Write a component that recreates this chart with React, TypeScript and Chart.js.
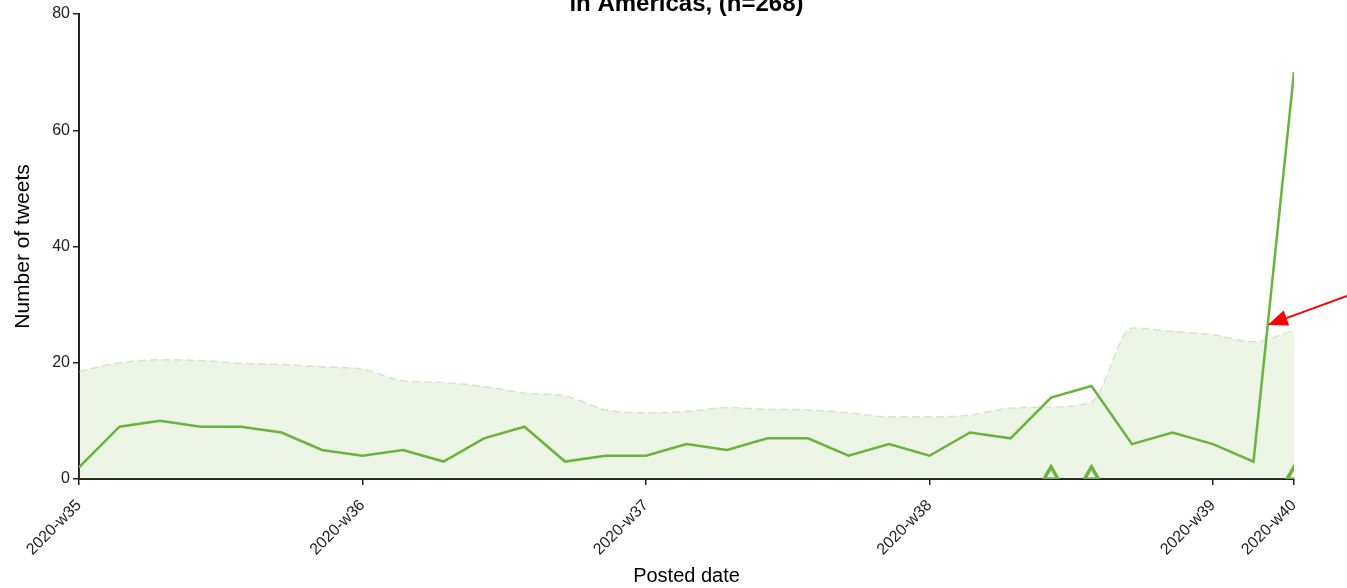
import React, { useEffect, useRef } from "react";
import { Chart, registerables } from "chart.js";

Chart.register(...registerables);

// Daily tweet counts (day index 0 = start of 2020-w35)
const days: number[] = Array.from({ length: 31 }, (_, i) => i);
const tweets: number[] = [2, 9, 10, 9, 9, 8, 5, 4, 5, 3, 7, 9, 3, 4, 4, 6, 5, 7, 7, 4, 6, 4, 8, 7, 14, 16, 6, 8, 6, 3, 70];
const upperBand: number[] = [18.5, 20, 20.5, 20.4, 19.9, 19.7, 19.3, 18.9, 16.9, 16.6, 15.9, 14.8, 14.3, 11.9, 11.4, 11.6, 12.3, 12.0, 11.9, 11.4, 10.7, 10.7, 11.0, 12.2, 12.4, 13.3, 26.0, 25.4, 24.8, 23.6, 25.6];
const signalDays: number[] = [24, 25, 30];
const signalLevel: number[] = [0.7, 0.7, 0.7];
const tickDays: number[] = [0, 7, 14, 21, 28, 30];
const tickLabels: string[] = ["2020-w35", "2020-w36", "2020-w37", "2020-w38", "2020-w39", "2020-w40"];
const titleText = "in Americas, (n=268)";
const arrowTip = { day: 29.35, value: 26.5 };

const FONT = "'Liberation Sans', Arial, sans-serif";
const GREEN = "#6ab43c";

const overlayPlugin = {
  id: "overlay",
  afterDraw(chart: any) {
    const { ctx, chartArea, scales } = chart;
    ctx.save();
    // title (partly cut at top)
    ctx.font = `bold 24px ${FONT}`;
    ctx.fillStyle = "#000";
    ctx.textAlign = "center";
    ctx.textBaseline = "alphabetic";
    ctx.fillText(titleText, (chartArea.left + chartArea.right) / 2, 11);
    // red arrow
    const tx = scales.x.getPixelForValue(arrowTip.day);
    const ty = scales.y.getPixelForValue(arrowTip.value);
    const sx = chart.width;
    const sy = ty - 29;
    const ang = Math.atan2(ty - sy, tx - sx);
    const headLen = 20;
    const headW = 8;
    const bx = tx - headLen * Math.cos(ang);
    const by = ty - headLen * Math.sin(ang);
    ctx.strokeStyle = "#ff0000";
    ctx.fillStyle = "#ff0000";
    ctx.lineWidth = 2;
    ctx.beginPath();
    ctx.moveTo(sx, sy);
    ctx.lineTo(bx, by);
    ctx.stroke();
    ctx.beginPath();
    ctx.moveTo(tx, ty);
    ctx.lineTo(bx + headW * Math.sin(ang), by - headW * Math.cos(ang));
    ctx.lineTo(bx - headW * Math.sin(ang), by + headW * Math.cos(ang));
    ctx.closePath();
    ctx.fill();
    ctx.restore();
  },
};

export default function App() {
  const ref = useRef<HTMLCanvasElement | null>(null);
  useEffect(() => {
    if (!ref.current) return;
    const chart = new Chart(ref.current, {
      type: "line",
      data: {
        datasets: [
          {
            label: "Signals",
            data: signalDays.map((d, i) => ({ x: d, y: signalLevel[i] })),
            showLine: false,
            pointStyle: "triangle",
            pointRadius: 8,
            pointBorderWidth: 3.5,
            pointBorderColor: GREEN,
            pointBackgroundColor: "#f4faf0",
            clip: 0,
            order: 1,
          },
          {
            label: "Tweets",
            data: days.map((d, i) => ({ x: d, y: tweets[i] })),
            borderColor: GREEN,
            borderWidth: 2.5,
            pointRadius: 0,
            fill: false,
            tension: 0,
            order: 2,
          },
          {
            label: "Threshold",
            data: days.map((d, i) => ({ x: d, y: upperBand[i] })),
            borderColor: "rgba(160,205,140,0.4)",
            borderDash: [8, 4],
            borderWidth: 1.5,
            backgroundColor: "rgba(120,185,80,0.14)",
            fill: "origin",
            pointRadius: 0,
            cubicInterpolationMode: "monotone",
            order: 3,
          },
        ],
      },
      options: {
        animation: false,
        responsive: false,
        events: [],
        layout: { padding: { top: 14, right: 53, left: 0, bottom: 0 } },
        plugins: {
          legend: { display: false },
          tooltip: { enabled: false },
          title: { display: false },
        },
        scales: {
          x: {
            type: "linear",
            min: 0,
            max: 30,
            afterBuildTicks: (scale: any) => {
              scale.ticks = tickDays.map((v) => ({ value: v }));
            },
            afterFit: (scale: any) => {
              scale.height = 109;
            },
            ticks: {
              autoSkip: false,
              minRotation: 45,
              maxRotation: 45,
              padding: 11,
              color: "#222",
              font: { family: FONT, size: 16 },
              callback: (v: any) => {
                const i = tickDays.indexOf(Number(v));
                return i >= 0 ? tickLabels[i] : "";
              },
            },
            grid: {
              display: true,
              drawOnChartArea: false,
              drawTicks: true,
              tickLength: 6,
              color: "#222",
              lineWidth: 1.5,
            },
            border: { display: true, color: "#222", width: 2 },
            title: {
              display: true,
              text: "Posted date",
              color: "#000",
              font: { family: FONT, size: 20 },
              padding: { top: 0, bottom: 0 },
            },
          },
          y: {
            min: 0,
            max: 80,
            afterFit: (scale: any) => {
              scale.width = 79;
            },
            ticks: {
              stepSize: 20,
              padding: 3,
              color: "#222",
              font: { family: FONT, size: 16 },
            },
            grid: {
              display: true,
              drawOnChartArea: false,
              drawTicks: true,
              tickLength: 6,
              color: "#222",
              lineWidth: 1.5,
            },
            border: { display: true, color: "#222", width: 2 },
            title: {
              display: true,
              text: "Number of tweets",
              color: "#000",
              font: { family: FONT, size: 21 },
              padding: { top: 11, bottom: 0 },
            },
          },
        },
      },
      plugins: [overlayPlugin],
    } as any);
    return () => chart.destroy();
  }, []);
  return (
    <div style={{ position: "absolute", left: 0, top: 0, width: 1347, height: 588, background: "#fff" }}>
      <canvas ref={ref} width={1347} height={588} style={{ width: 1347, height: 588, display: "block" }} />
    </div>
  );
}
